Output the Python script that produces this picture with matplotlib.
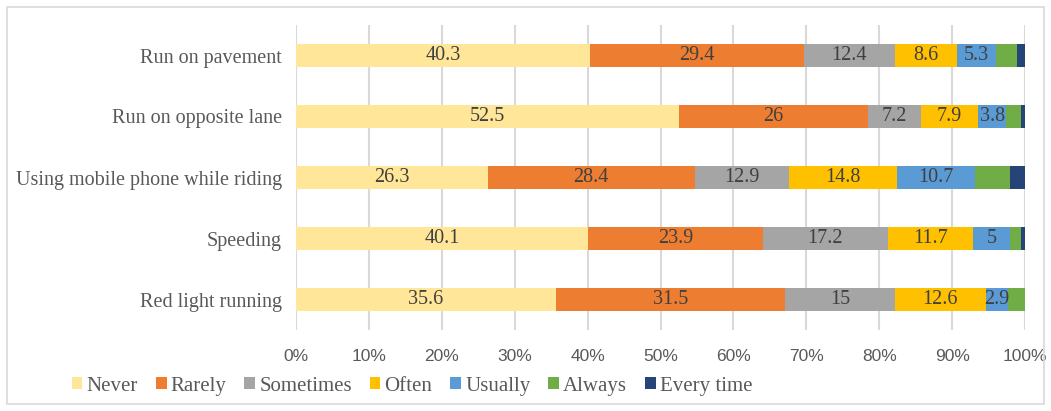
import matplotlib.pyplot as plt
from matplotlib.patches import Rectangle

# categories listed bottom to top
categories = ['Red light running', 'Speeding', 'Using mobile phone while riding',
              'Run on opposite lane', 'Run on pavement']
series = ['Never', 'Rarely', 'Sometimes', 'Often', 'Usually', 'Always', 'Every time']

never = [35.6, 40.1, 26.3, 52.5, 40.3]
rarely = [31.5, 23.9, 28.4, 26, 29.4]
sometimes = [15, 17.2, 12.9, 7.2, 12.4]
often = [12.6, 11.7, 14.8, 7.9, 8.6]
usually = [2.9, 5, 10.7, 3.8, 5.3]
always = [2.4, 1.5, 4.8, 2.1, 2.9]
every_time = [0, 0.6, 2.1, 0.5, 1.1]

colors = ['#FFE699', '#ED7D31', '#A5A5A5', '#FFC000', '#5B9BD5', '#70AD47', '#264478']
labelled = [True, True, True, True, True, False, False]


def main():
    fig = plt.figure(figsize=(10.51, 4.11), dpi=100)
    ax = fig.add_axes([296 / 1051, 1 - 330 / 411, 729 / 1051, 305 / 411])

    data = [never, rarely, sometimes, often, usually, always, every_time]
    y = list(range(len(categories)))
    left = [0] * len(categories)
    for name, vals, col, lab in zip(series, data, colors, labelled):
        bars = ax.barh(y, vals, left=left, height=0.39, color=col, label=name)
        if lab:
            for b, v in zip(bars, vals):
                txt = str(v)
                ax.text(b.get_x() + b.get_width() / 2, b.get_y() + b.get_height() / 2, txt,
                        ha='center', va='center', fontsize=14.5, color='#404040',
                        family='Liberation Serif')
        left = [l + v for l, v in zip(left, vals)]

    ax.set_xlim(0, 100)
    ax.set_ylim(-0.5, len(categories) - 0.5)
    ax.set_xticks(range(0, 101, 10))
    ax.set_xticklabels([f'{t}%' for t in range(0, 101, 10)], fontsize=12.5,
                       color='#595959', family='Liberation Sans')
    ax.set_yticks(y)
    ax.set_yticklabels(categories, fontsize=14.5, color='#595959', family='Liberation Serif')
    ax.tick_params(axis='both', length=0, pad=10)
    ax.tick_params(axis='x', pad=14)
    ax.grid(axis='x', color='#D9D9D9', linewidth=1.5)
    ax.set_axisbelow(True)
    for s in ax.spines.values():
        s.set_visible(False)

    fig.legend(loc='center', bbox_to_anchor=(412 / 1051, 1 - 386 / 411), ncol=7,
               frameon=False, handlelength=0.52, handleheight=0.52, handletextpad=0.2,
               columnspacing=0.85, prop={'family': 'Liberation Serif', 'size': 15},
               labelcolor='#595959')

    fig.patches.append(Rectangle((7 / 1051, 7 / 411), 1 - 14 / 1051, 1 - 14 / 411,
                                 transform=fig.transFigure, fill=False,
                                 edgecolor='#D9D9D9', linewidth=1.2))

    fig.savefig('out.png', dpi=100)


if __name__ == '__main__':
    main()
